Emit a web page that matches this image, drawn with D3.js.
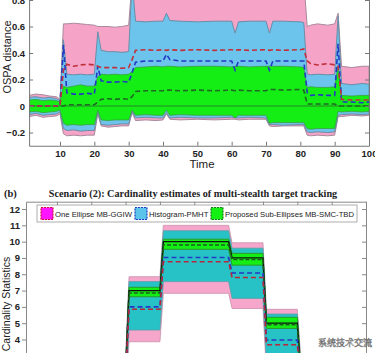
<!DOCTYPE html>
<html><head><meta charset="utf-8">
<script src="https://cdn.jsdelivr.net/npm/d3@7"></script>
<style>
html,body{margin:0;padding:0;background:#fff;}
svg{display:block;font-family:"Liberation Sans",Arial,sans-serif;}
</style></head>
<body><svg id="c" width="375" height="353"></svg>
<script>
// ---------- (a) OSPA distance data ----------
const timeA = [1,3,5,7,9,10, 11,12,14,16,18,20, 21,22,24,26,28,30, 31,32,35,38,40, 41,42,45,50,55,60, 61,62,65,70, 71,72,75,80, 81,82,83,85,88,90, 91,92,95,98,100];
const pinkHi = [0.08,0.09,0.085,0.075,0.07,0.05, 0.62,0.62,0.625,0.62,0.615,0.61, 0.60,0.60,0.60,0.595,0.60,0.61, 0.95,0.95,0.95,0.95,0.95, 0.95,0.95,0.95,0.95,0.95,0.95, 0.95,0.95,0.95,0.95, 0.95,0.95,0.95,0.95, 0.95,0.60,0.61,0.62,0.61,0.62, 0.70,0.30,0.29,0.30,0.30];
const pinkLo = [-0.08,-0.07,-0.085,-0.08,-0.075,-0.06, -0.21,-0.225,-0.22,-0.225,-0.22,-0.22, -0.06,-0.15,-0.16,-0.155,-0.15,-0.15, -0.05,-0.11,-0.105,-0.11,-0.105, -0.06,-0.10,-0.105,-0.10,-0.105,-0.10, -0.10,-0.105,-0.10,-0.10, -0.15,-0.155,-0.15,-0.15, -0.15,-0.22,-0.225,-0.22,-0.225,-0.22, -0.08,-0.08,-0.07,-0.075,-0.07];
const blueHi = [0.065,0.07,0.06,0.065,0.055,0.04, 0.50,0.24,0.235,0.24,0.235,0.24, 0.56,0.42,0.41,0.41,0.405,0.41, 0.95,0.64,0.635,0.64,0.64, 0.70,0.645,0.64,0.635,0.64,0.64, 0.55,0.635,0.64,0.64, 0.55,0.64,0.64,0.635, 0.63,0.24,0.235,0.24,0.235,0.24, 0.68,0.17,0.16,0.17,0.165];
const blueLo = [-0.065,-0.055,-0.07,-0.065,-0.06,-0.045, -0.17,-0.185,-0.18,-0.19,-0.185,-0.185, -0.04,-0.14,-0.145,-0.14,-0.135,-0.135, -0.04,-0.09,-0.085,-0.09,-0.09, -0.05,-0.09,-0.085,-0.09,-0.09,-0.085, -0.09,-0.09,-0.085,-0.09, -0.14,-0.14,-0.145,-0.14, -0.14,-0.195,-0.20,-0.195,-0.20,-0.195, -0.07,-0.065,-0.06,-0.065,-0.06];
const greenHi = [0.045,0.05,0.04,0.045,0.04,0.03, 0.15,0.14,0.15,0.16,0.15,0.15, 0.22,0.24,0.235,0.24,0.235,0.24, 0.26,0.29,0.295,0.30,0.295, 0.30,0.30,0.295,0.30,0.30,0.295, 0.30,0.30,0.295,0.30, 0.30,0.30,0.30,0.295, 0.29,0.14,0.145,0.14,0.14,0.145, 0.30,0.08,0.075,0.08,0.08];
const greenLo = [-0.045,-0.04,-0.05,-0.045,-0.04,-0.03, -0.13,-0.145,-0.14,-0.145,-0.14,-0.14, -0.03,-0.105,-0.11,-0.105,-0.105,-0.105, -0.03,-0.07,-0.065,-0.07,-0.07, -0.03,-0.07,-0.065,-0.07,-0.07,-0.07, -0.09,-0.07,-0.07,-0.07, -0.13,-0.125,-0.125,-0.125, -0.125,-0.17,-0.175,-0.17,-0.17,-0.17, -0.04,-0.045,-0.04,-0.045,-0.04];
const redMean = [0,0,0,0,0,0, 0.27,0.315,0.30,0.31,0.315,0.31, 0.30,0.29,0.29,0.29,0.285,0.29, 0.35,0.42,0.425,0.42,0.425, 0.42,0.425,0.42,0.425,0.42,0.425, 0.42,0.425,0.42,0.425, 0.42,0.425,0.42,0.425, 0.43,0.34,0.32,0.31,0.32,0.31, 0.30,0.05,0.045,0.045,0.045];
const blueMean = [0,0,0,0,0,0, 0.46,0.10,0.09,0.09,0.095,0.09, 0.30,0.19,0.18,0.18,0.185,0.18, 0.25,0.33,0.34,0.34,0.34, 0.39,0.35,0.34,0.34,0.34,0.34, 0.27,0.34,0.34,0.34, 0.27,0.34,0.34,0.34, 0.34,0.10,0.08,0.085,0.08,0.08, 0.47,0.03,0.03,0.025,0.03];
const greenMean = [0,0,0,0,0,0, 0.0,0.01,0.01,0.01,0.01,0.01, 0.03,0.05,0.055,0.05,0.055,0.05, 0.07,0.11,0.115,0.115,0.115, 0.12,0.12,0.115,0.12,0.115,0.12, 0.115,0.12,0.115,0.115, 0.125,0.125,0.12,0.125, 0.12,0.015,0.015,0.015,0.015,0.015, 0.0,0.0,0.0,0.0,0.0];
const ticksAX = [10,20,30,40,50,60,70,80,90,100];
const ticksAY = [-0.2,0,0.2,0.4,0.6,0.8];

// ---------- (b) Cardinality data (per segment) ----------
const segStart = [1,11,21,31,41,61,71,81,91];
const segEnd   = [10,20,30,40,60,70,80,90,100];
const cPinkTop  = [0.8,1.9,2.9,7.85,11.0,9.93,5.85,2.9,0.8];
const cTealTop  = [0.6,1.6,2.6,7.55,10.67,9.6,5.56,2.6,0.6];
const cGreenTop = [0.3,1.3,2.3,7.2,10.15,9.28,5.36,2.3,0.3];
const cTruth    = [0,1,2,7,10,9,5,2,0];
const cGreenMean= [0,1,2,6.85,9.8,8.9,4.9,2,0];
const cGreenBot = [0,0.7,1.7,6.62,9.53,8.56,4.68,1.7,0];
const cBlueMean = [0,0.9,1.8,6.0,9.03,8.08,3.97,1.8,0];
const cRedMean  = [0,0.8,1.7,5.85,8.77,7.8,3.68,1.6,0];
const cTealBot  = [0,0.3,1.0,4.58,7.55,6.52,2.6,0.9,0];
const cPinkBot  = [0,0,0.5,3.86,6.83,5.9,2.0,0.5,0];
const ticksBX = [10,20,30,40,50,60,70,80,90,100];
const ticksBY = [3,4,5,6,7,8,9,10,11,12];
const legendNames = ["One Ellipse MB-GGIW","Histogram-PMHT","Proposed Sub-Ellipses MB-SMC-TBD"];
const titleB = "Scenario (2): Cardinality estimates of multi-stealth target tracking";

const svg = d3.select("#c");
const defs = svg.append("defs");

// ================= panel (a) =================
const xA = d3.scaleLinear([1,100],[29.1,369]);
const yA = d3.scaleLinear([-0.3,1.0],[145.75,-26.5]);
defs.append("clipPath").attr("id","clipA").append("rect")
  .attr("x",xA(1)).attr("y",yA(1.0)).attr("width",xA(100)-xA(1)).attr("height",yA(-0.3)-yA(1.0));
const gA = svg.append("g").attr("clip-path","url(#clipA)");
const band = (lo,hi) => timeA.map((t,i)=>({t,lo:lo[i],hi:hi[i]}));
const lineDat = arr => timeA.map((t,i)=>({t,v:arr[i]}));
const areaA = d3.area().x(d=>xA(d.t)).y0(d=>yA(d.lo)).y1(d=>yA(d.hi));
const lineA = d3.line().x(d=>xA(d.t)).y(d=>yA(d.v));
gA.append("path").datum(band(pinkLo,pinkHi)).attr("d",areaA).attr("fill","#f5a3c7").attr("stroke","#a88a9c").attr("stroke-width",1);
gA.append("path").datum(band(blueLo,blueHi)).attr("d",areaA).attr("fill","#6cc4ec").attr("stroke","#6a8ea6").attr("stroke-width",1);
gA.append("path").datum(band(greenLo,greenHi)).attr("d",areaA).attr("fill","#14ee14").attr("stroke","#3aa03a").attr("stroke-width",0.8);
gA.append("line").attr("x1",xA(1)).attr("x2",xA(100)).attr("y1",yA(0)).attr("y2",yA(0)).attr("stroke","#2c6a2c").attr("stroke-width",0.8);
gA.append("path").datum(lineDat(greenMean)).attr("d",lineA).attr("fill","none").attr("stroke","#1f6a24").attr("stroke-width",1.6).attr("stroke-dasharray","5,3");
gA.append("path").datum(lineDat(blueMean)).attr("d",lineA).attr("fill","none").attr("stroke","#2338c4").attr("stroke-width",1.6).attr("stroke-dasharray","5,3");
gA.append("path").datum(lineDat(redMean)).attr("d",lineA).attr("fill","none").attr("stroke","#c2303c").attr("stroke-width",1.6).attr("stroke-dasharray","5,3");

// axes (a)
const axA = svg.append("g");
axA.append("g").attr("transform",`translate(0,${yA(-0.3)})`)
  .call(d3.axisBottom(xA).tickValues(ticksAX).tickSizeInner(-4).tickSizeOuter(0).tickPadding(5))
  .call(g=>{g.selectAll("text").attr("font-size",9.5).attr("fill","#222").attr("font-weight","bold");g.selectAll("line,path").attr("stroke","#777");});
axA.append("g").attr("transform",`translate(${xA(1)},0)`)
  .call(d3.axisLeft(yA).tickValues(ticksAY).tickSizeInner(-4).tickSizeOuter(0).tickPadding(4).tickFormat(d=>d===0?"0":d3.format(".1f")(d)))
  .call(g=>{g.selectAll("text").attr("font-size",9.5).attr("fill","#222").attr("font-weight","bold");g.selectAll("line,path").attr("stroke","#777");});
axA.append("g").attr("transform",`translate(${xA(100)},0)`)
  .call(d3.axisRight(yA).tickValues(ticksAY).tickSizeInner(-4).tickSizeOuter(0).tickFormat(""))
  .call(g=>g.selectAll("line,path").attr("stroke","#777"));
svg.append("text").attr("x",202).attr("y",168).attr("text-anchor","middle").attr("font-size",11.5).attr("fill","#222").text("Time");
svg.append("text").attr("transform","translate(11,57) rotate(-90)").attr("text-anchor","middle").attr("font-size",11).attr("fill","#222").text("OSPA distance");

// ================= panel (b) =================
const xB = d3.scaleLinear([1,100],[26,366]);
const yB = d3.scaleLinear([0,12.45],[404.7,201.7]);
defs.append("clipPath").attr("id","clipB").append("rect")
  .attr("x",xB(1)).attr("y",yB(12.45)).attr("width",xB(100)-xB(1)).attr("height",yB(0)-yB(12.45));
const gB = svg.append("g").attr("clip-path","url(#clipB)");
const segPts = arr => segStart.flatMap((s,i)=>[{t:s,v:arr[i]},{t:segEnd[i],v:arr[i]}]);
const segBand = (lo,hi) => segStart.flatMap((s,i)=>[{t:s,lo:lo[i],hi:hi[i]},{t:segEnd[i],lo:lo[i],hi:hi[i]}]);
const areaB = d3.area().x(d=>xB(d.t)).y0(d=>yB(d.lo)).y1(d=>yB(d.hi));
const lineB = d3.line().x(d=>xB(d.t)).y(d=>yB(d.v));
gB.append("path").datum(segBand(cPinkBot,cPinkTop)).attr("d",areaB).attr("fill","#f7a6cb").attr("stroke","#c890ac").attr("stroke-width",0.8);
gB.append("path").datum(segBand(cTealBot,cTealTop)).attr("d",areaB).attr("fill","#26c2c6").attr("stroke","#5aa0a8").attr("stroke-width",0.8);
gB.append("path").datum(segBand(cGreenBot,cGreenTop)).attr("d",areaB).attr("fill","#14ee14").attr("stroke","#2a9a2a").attr("stroke-width",1);
gB.append("path").datum(segPts(cTruth)).attr("d",lineB).attr("fill","none").attr("stroke","#111").attr("stroke-width",1.3);
gB.append("path").datum(segPts(cGreenMean)).attr("d",lineB).attr("fill","none").attr("stroke","#1a5e1a").attr("stroke-width",1.5).attr("stroke-dasharray","4,2");
gB.append("path").datum(segPts(cBlueMean)).attr("d",lineB).attr("fill","none").attr("stroke","#2338c4").attr("stroke-width",1.6).attr("stroke-dasharray","5,3");
gB.append("path").datum(segPts(cRedMean)).attr("d",lineB).attr("fill","none").attr("stroke","#b8283a").attr("stroke-width",1.6).attr("stroke-dasharray","5,3");

// axes (b)
const axB = svg.append("g");
axB.append("g").attr("transform",`translate(${xB(1)},0)`)
  .call(d3.axisLeft(yB).tickValues(ticksBY).tickSizeInner(4).tickSizeOuter(0).tickPadding(2))
  .call(g=>{g.selectAll("text").attr("font-size",9.5).attr("fill","#222").attr("font-weight","bold");g.selectAll("line,path").attr("stroke","#888");});
axB.append("g").attr("transform",`translate(${xB(100)},0)`)
  .call(d3.axisRight(yB).tickValues(ticksBY).tickSizeInner(-4).tickSizeOuter(0).tickFormat(""))
  .call(g=>g.selectAll("line,path").attr("stroke","#888"));
axB.append("g").attr("transform",`translate(0,${yB(12.45)})`)
  .call(d3.axisTop(xB).tickValues(ticksBX).tickSizeInner(-4).tickSizeOuter(0).tickFormat(""))
  .call(g=>g.selectAll("line,path").attr("stroke","#888"));
svg.append("text").attr("transform","translate(10,304) rotate(-90)").attr("text-anchor","middle").attr("font-size",10.5).attr("fill","#222").text("Cardinality Statistics");

// title
svg.append("text").attr("x",4).attr("y",197).attr("font-family","Liberation Serif, Times New Roman, serif").attr("font-weight","bold").attr("font-size",10.5).attr("fill","#222").text("(b)");
svg.append("text").attr("x",193).attr("y",196.5).attr("text-anchor","middle").attr("font-family","Liberation Serif, Times New Roman, serif").attr("font-weight","bold").attr("font-size",10.2).attr("fill","#222").text(titleB);

// legend
const lg = svg.append("g");
lg.append("rect").attr("x",37).attr("y",205).attr("width",320).attr("height",17).attr("fill","#fff").attr("stroke","#999").attr("stroke-width",0.8);
const swX = [41,135,211];
const swFill = ["#ff14ff","#5cc4ea","#14f014"];
const swStroke = ["#d01040","#1c3cc0","#1a7a1a"];
legendNames.forEach((n,i)=>{
  lg.append("rect").attr("x",swX[i]).attr("y",207.5).attr("width",12).attr("height",12).attr("fill",swFill[i]).attr("stroke",swStroke[i]).attr("stroke-width",1.2).attr("stroke-dasharray","2,1");
  lg.append("text").attr("x",swX[i]+14).attr("y",216.6).attr("font-size",7.7).attr("fill","#222").text(n);
});

// watermark
svg.append("text").attr("x",345).attr("y",346).attr("text-anchor","middle").attr("font-family","Noto Sans CJK SC, sans-serif").attr("font-size",9).attr("fill","#fff").attr("stroke","#555").attr("stroke-width",0.5).attr("opacity",0.85).text("系统技术交流");
</script></body></html>
